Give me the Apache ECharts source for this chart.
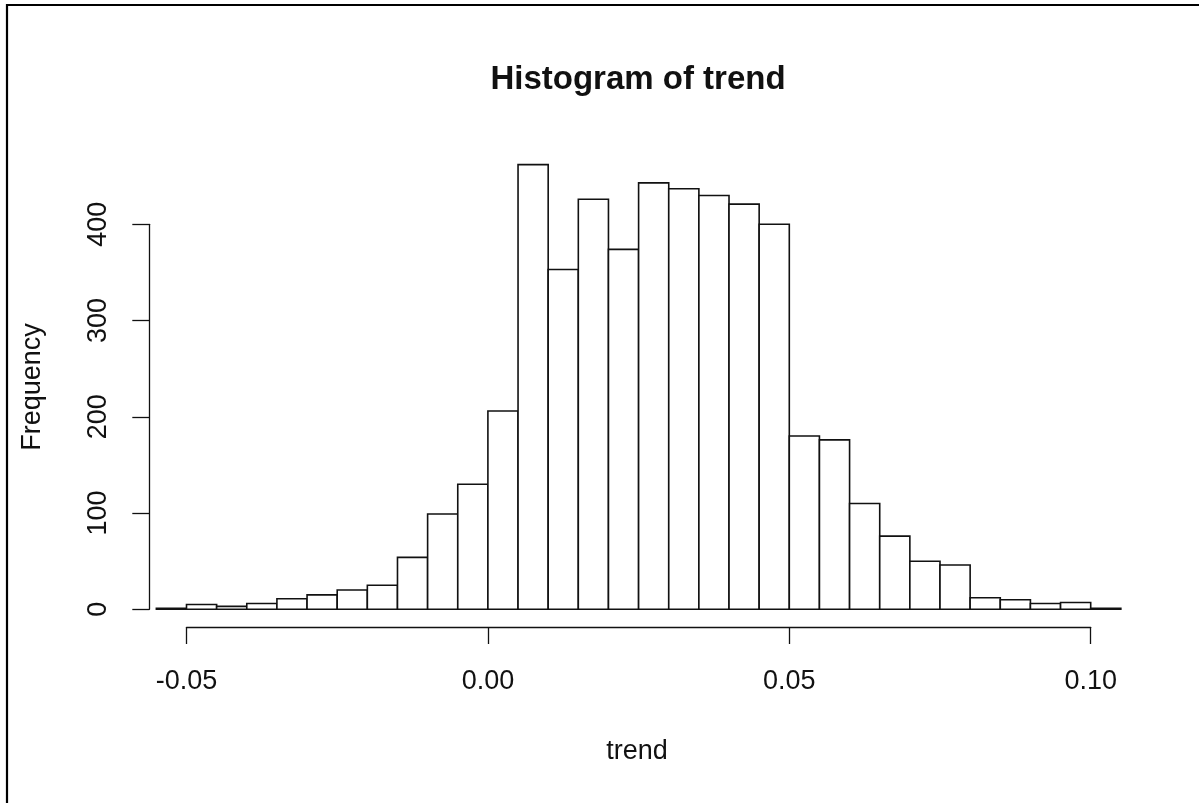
<!DOCTYPE html>
<html>
<head>
<meta charset="utf-8">
<script src="https://cdn.jsdelivr.net/npm/echarts@6/dist/echarts.min.js"></script>
<style>
  html, body { margin: 0; padding: 0; background: #fff; }
  #chart { width: 1199px; height: 803px; }
</style>
</head>
<body>
<div id="chart"></div>
<script>
// Histogram bin edges (left edges; each bin is 0.005 wide)
const binStarts = [
  -0.055, -0.050, -0.045, -0.040, -0.035, -0.030, -0.025, -0.020,
  -0.015, -0.010, -0.005,  0.000,  0.005,  0.010,  0.015,  0.020,
   0.025,  0.030,  0.035,  0.040,  0.045,  0.050,  0.055,  0.060,
   0.065,  0.070,  0.075,  0.080,  0.085,  0.090,  0.095,  0.100
];
const binEnds = [
  -0.050, -0.045, -0.040, -0.035, -0.030, -0.025, -0.020, -0.015,
  -0.010, -0.005,  0.000,  0.005,  0.010,  0.015,  0.020,  0.025,
   0.030,  0.035,  0.040,  0.045,  0.050,  0.055,  0.060,  0.065,
   0.070,  0.075,  0.080,  0.085,  0.090,  0.095,  0.100,  0.105
];
// Frequency of each bin
const counts = [
    1,   5,   3,   6,  11,  15,  20,  25,
   54,  99, 130, 206, 462, 353, 426, 374,
  443, 437, 430, 421, 400, 180, 176, 110,
   76,  50,  46,  12,  10,   6,   7,   1
];
// Axis ticks
const xTicks = [-0.05, 0.00, 0.05, 0.10];
const yTicks = [0, 100, 200, 300, 400];

const titleText = 'Histogram of trend';
const xLabel = 'trend';
const yLabel = 'Frequency';

const FONT = '"Liberation Sans", Arial, Helvetica, sans-serif';
const INK = '#111';

const barData = counts.map((c, i) => [binStarts[i], binEnds[i], c]);

const chart = echarts.init(document.getElementById('chart'), null, { renderer: 'canvas' });

chart.setOption({
  backgroundColor: '#ffffff',
  animation: false,
  grid: { left: 186.5, right: 108.3, top: 224.3, bottom: 193.7 },
  xAxis: {
    type: 'value',
    min: xTicks[0],
    max: xTicks[xTicks.length - 1],
    interval: 0.05,
    offset: 17.7,
    axisLine: { show: true, onZero: false, lineStyle: { color: INK, width: 1.3 } },
    axisTick: { show: true, inside: false, length: 17, lineStyle: { color: INK, width: 1.3 } },
    axisLabel: {
      margin: 41,
      fontFamily: FONT, fontSize: 27, color: INK,
      formatter: v => v.toFixed(2),
      showMinLabel: true, showMaxLabel: true
    },
    splitLine: { show: false }
  },
  yAxis: {
    type: 'value',
    min: yTicks[0],
    max: yTicks[yTicks.length - 1],
    interval: 100,
    offset: 37.2,
    axisLine: { show: true, onZero: false, lineStyle: { color: INK, width: 1.3 } },
    axisTick: { show: true, inside: false, length: 17, lineStyle: { color: INK, width: 1.3 } },
    axisLabel: {
      margin: 37,
      rotate: 90,
      fontFamily: FONT, fontSize: 27, color: INK,
      showMinLabel: true, showMaxLabel: true
    },
    splitLine: { show: false }
  },
  series: [{
    type: 'custom',
    clip: false,
    data: barData,
    encode: { x: [0, 1], y: 2 },
    renderItem: function (params, api) {
      const p0 = api.coord([api.value(0), api.value(2)]);
      const p1 = api.coord([api.value(1), 0]);
      return {
        type: 'rect',
        shape: { x: p0[0], y: p0[1], width: p1[0] - p0[0], height: p1[1] - p0[1] },
        style: { fill: '#ffffff', stroke: INK, lineWidth: 1.6 }
      };
    }
  }],
  graphic: [
    {
      type: 'rect', silent: true, z: 100,
      shape: { x: 7, y: 5, width: 1400, height: 1000 },
      style: { fill: 'none', stroke: '#000', lineWidth: 2.2 }
    },
    {
      type: 'text', silent: true,
      style: {
        text: titleText, x: 638, y: 80,
        font: 'bold 33px ' + FONT, fill: INK,
        textAlign: 'center', textVerticalAlign: 'middle'
      }
    },
    {
      type: 'text', silent: true,
      style: {
        text: xLabel, x: 637, y: 752,
        font: '27px ' + FONT, fill: INK,
        textAlign: 'center', textVerticalAlign: 'middle'
      }
    },
    {
      type: 'text', silent: true,
      x: 33, y: 387, rotation: Math.PI / 2,
      style: {
        text: yLabel, x: 0, y: 0,
        font: '27px ' + FONT, fill: INK,
        textAlign: 'center', textVerticalAlign: 'middle'
      }
    }
  ]
});
</script>
</body>
</html>
